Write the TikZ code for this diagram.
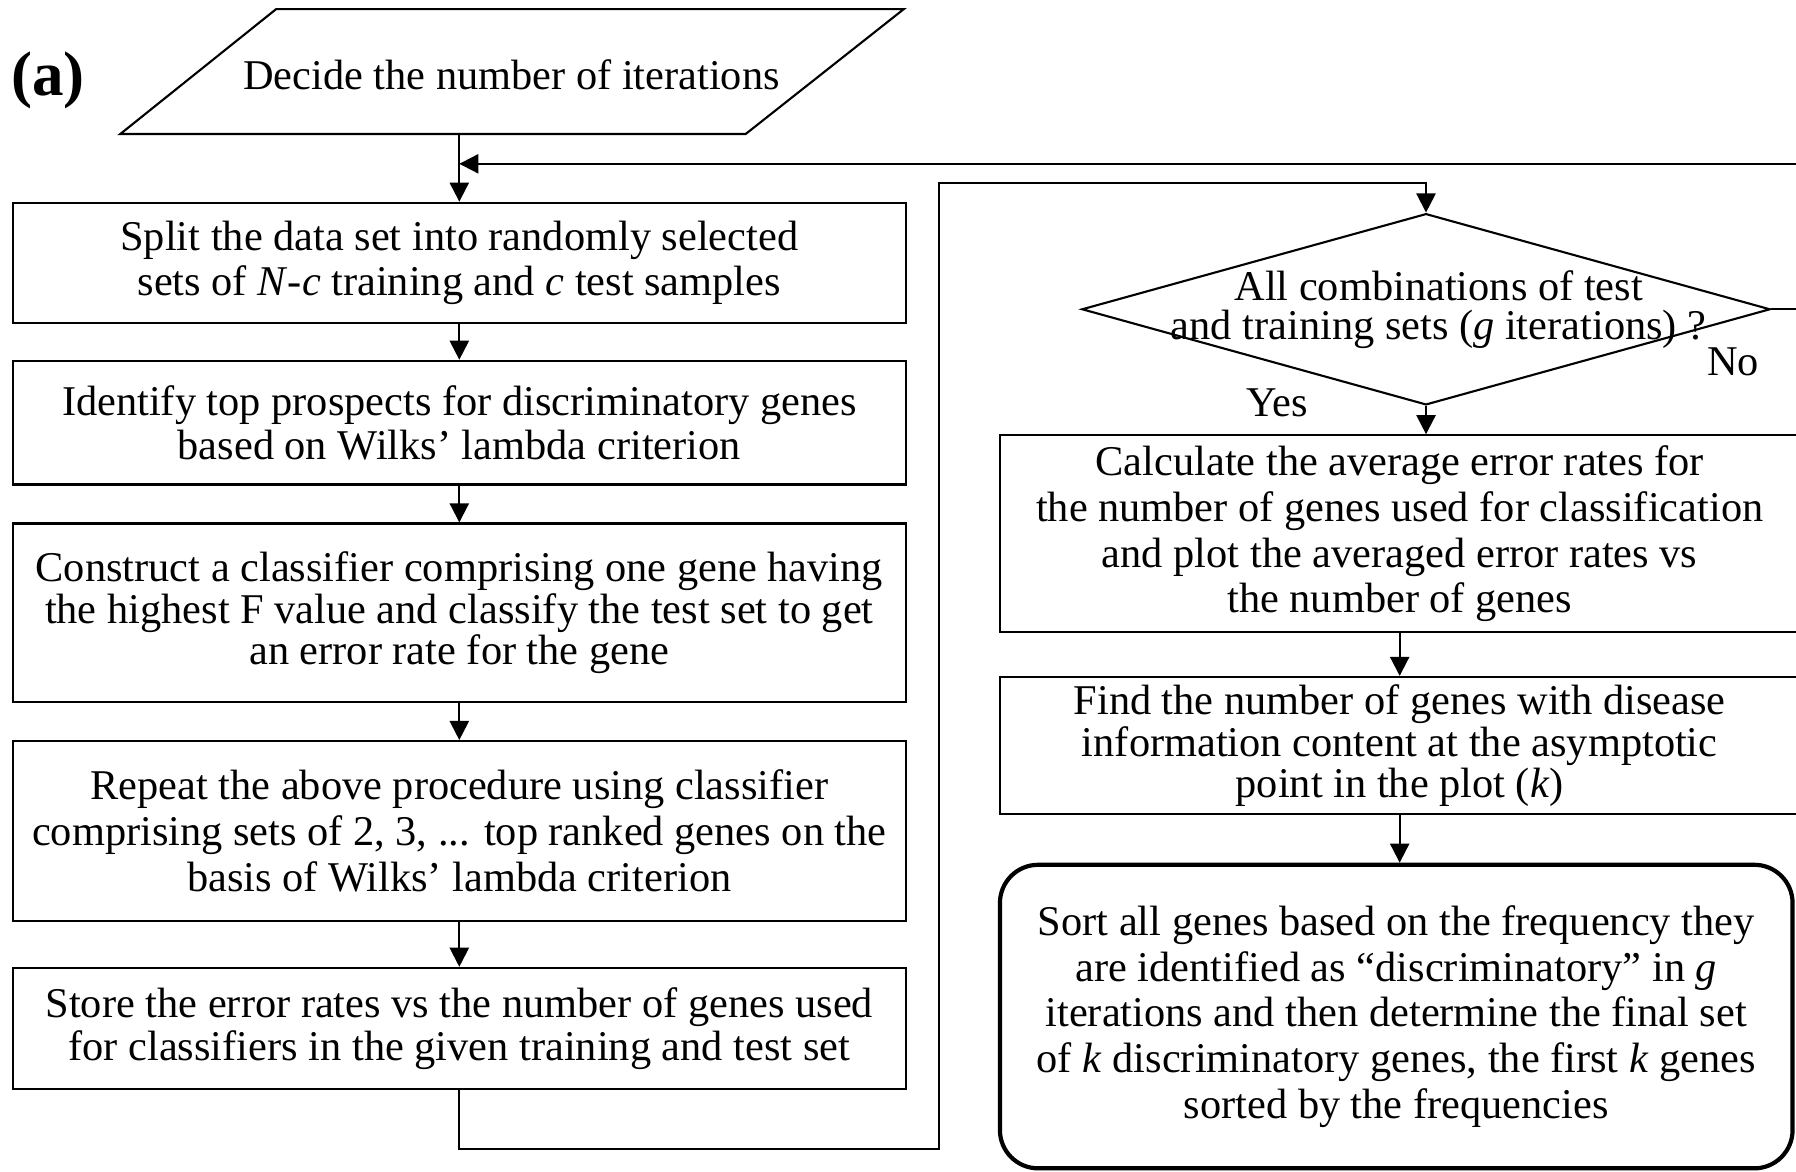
\documentclass[tikz,border=0pt]{standalone}
\usepackage{fontspec}
\setmainfont{Liberation Serif}
\usepackage{tikz}
\usetikzlibrary{arrows.meta}
\usetikzlibrary{shapes.geometric}

\begin{document}
\begin{tikzpicture}[x=0.3pt, y=-0.3pt,
	every node/.style={font=\fontsize{11.1}{12}\selectfont, align=center},
	stage/.style={draw, line width=0.55pt, inner sep=0pt, minimum width=234pt},
	sidestage/.style={draw, line width=0.55pt, inner sep=0pt, minimum width=209.4pt},
	finalstage/.style={draw, line width=1.1pt, rounded corners=10pt, inner sep=0pt, minimum width=207.6pt},
	decision/.style={draw, line width=0.55pt, diamond, inner sep=0pt, minimum width=180.3pt, minimum height=50.1pt},
	flow/.style={line width=0.55pt, -{Triangle[length=5pt,width=5pt]}}
]
\useasboundingbox (0,0) rectangle (1568,1023);

\node[font=\fontsize{16.5}{18}\selectfont\bfseries] (panel) at (42,70) {(a)};

% start
\node[inner sep=0pt] (iter) at (446.5,65) {Decide the number of iterations};
\draw[line width=0.55pt] (241,8) -- (789,8) -- (651,117) -- (105,117) -- cycle;
\coordinate (iterout) at (401,117);
\coordinate (join) at (401,143);

% left column
\node[stage, minimum height=31.5pt] (split) at (401,229.5)
	{Split the data set into randomly selected\\sets of \textit{N}-\textit{c} training and \textit{c} test samples};
\node[stage, minimum height=32.4pt, font=\fontsize{11.1}{11.4}\selectfont] (ident) at (401,369)
	{Identify top prospects for discriminatory genes\\based on Wilks’ lambda criterion};
\node[stage, minimum height=46.8pt, font=\fontsize{11.1}{10.9}\selectfont] (constr) at (401,535)
	{Construct a classifier comprising one gene having\\the highest F value and classify the test set to get\\an error rate for the gene};
\node[stage, minimum height=47.1pt] (repeat) at (401,725.5)
	{Repeat the above procedure using classifier\\comprising sets of 2, 3, ... top ranked genes on the\\basis of Wilks’ lambda criterion};
\node[stage, minimum height=31.8pt, font=\fontsize{11.1}{11.4}\selectfont] (store) at (401,898)
	{Store the error rates vs the number of genes used\\for classifiers in the given training and test set};

% right column
\node[decision] (dec) at (1245,270) {};
\node[inner sep=0pt, font=\fontsize{11.1}{10.2}\selectfont] (dectext) at (1256,270)
	{All combinations of test\\and training sets (\textit{g} iterations) ?};
\node (yes) at (1115,352) {Yes};
\node (no) at (1513,316) {No};

\node[sidestage, minimum height=51.6pt] (calc) at (1222,466)
	{Calculate the average error rates for\\the number of genes used for classification\\and plot the averaged error rates vs\\the number of genes};
\node[sidestage, minimum height=36pt, font=\fontsize{11.1}{10.8}\selectfont] (find) at (1222,651)
	{Find the number of genes with disease\\information content at the asymptotic\\point in the plot (\textit{k})};
\node[finalstage, minimum height=79.5pt] (sort) at (1219,887.5)
	{Sort all genes based on the frequency they\\are identified as “discriminatory” in \textit{g}\\iterations and then determine the final set\\of \textit{k} discriminatory genes, the first \textit{k} genes\\sorted by the frequencies};

\coordinate (lowrail) at (820,1003);
\coordinate (toprail) at (1245,160);
\coordinate (loopback) at (1610,143);

\path[flow]
(iterout) edge (split.north)
(split) edge (ident)
(ident) edge (constr)
(constr) edge (repeat)
(repeat) edge (store)
(calc) edge (find)
;
\draw[flow] (store.south) |- (lowrail) |- (toprail) -- (dec.north);
\draw[flow] (dec.south) -- (dec.south |- calc.north);
\draw[flow] (find.south) -- (find.south |- sort.north);
\draw[flow] (dec.east) -| (loopback) -- (join);
\end{tikzpicture}
\end{document}
